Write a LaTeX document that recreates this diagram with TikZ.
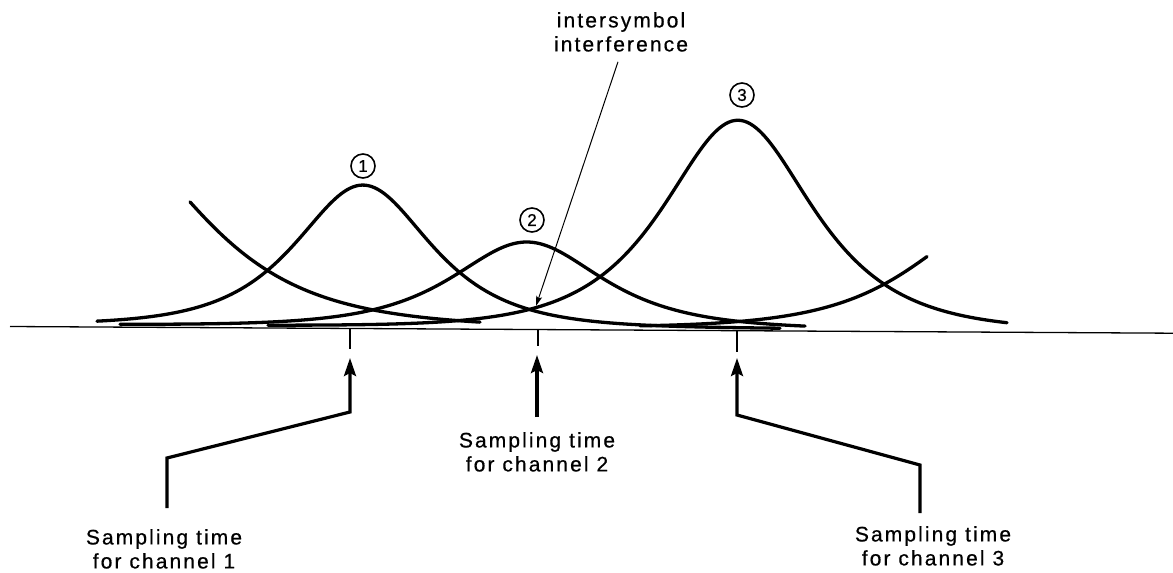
\documentclass[tikz,border=0pt]{standalone}
\usepackage{fontspec}
\setmainfont{Liberation Sans}
\newfontfamily\labfont[LetterSpace=10,FakeBold=0.6]{Liberation Sans}
\newfontfamily\numfont[FakeBold=0.8]{Liberation Sans}
\usetikzlibrary{arrows.meta}
\tikzset{
  pulse/.style={line width=3.3pt, line join=round, line cap=round},
  axisline/.style={line width=1.3pt},
  lead/.style={line width=3.2pt, line join=miter},
  bigtip/.style={-{Stealth[length=18pt,width=12pt,inset=3pt]}},
  smalltip/.style={line width=1pt, -{Stealth[length=10pt,width=6pt,inset=2pt]}},
  tickline/.style={line width=1.3pt},
  lab/.style={font=\labfont\fontsize{21}{24}\selectfont, align=center, inner sep=0pt},
  num/.style={draw, circle, line width=1.6pt, minimum size=24pt, inner sep=0pt, font=\numfont\fontsize{17}{17}\selectfont},
}
\begin{document}
\begin{tikzpicture}[x=1pt,y=-1pt]
\useasboundingbox (0,0) rectangle (1173,573);
% axis
\coordinate (axL) at (10,326.5);
\coordinate (axR) at (1173,333.2);
\draw[axisline] (axL) -- (axR);
% pulses
\draw[pulse] plot[domain=190:480, samples=120, smooth] (\x, {324+0.0058*(\x-10) - 190/cosh((\x-105)/85)});
\draw[pulse] plot[domain=97:780, samples=220, smooth] (\x, {324+0.0058*(\x-10) - 141/cosh((\x-363)/60)});
\draw[pulse] plot[domain=120:805, samples=220, smooth] (\x, {324+0.0058*(\x-10) - 85/cosh((\x-527)/66)});
\draw[pulse] plot[domain=268:1007, samples=240, smooth] (\x, {324+0.0058*(\x-10) - 208/cosh((\x-738)/66)});
\draw[pulse] plot[domain=640:927, samples=120, smooth] (\x, {324+0.0058*(\x-10) - 110/cosh((\x-1000)/75)});
% circled numbers
\node[num] (n1) at (363,166) {1};
\node[num] (n2) at (532,220) {2};
\node[num] (n3) at (742,95) {3};
% intersymbol interference
\node[lab, anchor=north] (isi) at (621,12) {intersymbol\\interference};
\coordinate (isitip) at (536,306);
\draw[smalltip] ([xshift=-3pt,yshift=-10pt]isi.south) -- (isitip);
% sampling ticks
\coordinate (t1a) at (350,329);   \coordinate (t1b) at (350,349);
\coordinate (t2a) at (538,329.6); \coordinate (t2b) at (538,346);
\coordinate (t3a) at (737,330.7); \coordinate (t3b) at (737,352);
\draw[tickline] (t1a) -- (t1b);
\draw[tickline] (t2a) -- (t2b);
\draw[tickline] (t3a) -- (t3b);
% labels
\node[lab, anchor=north] (s1) at (164,529) {Sampling time\\for channel 1};
\node[lab, anchor=north] (s2) at (537,432) {Sampling time\\for channel 2};
\node[lab, anchor=north] (s3) at (933,526) {Sampling time\\for channel 3};
% leaders
\coordinate (tip1) at (350,358); \coordinate (k1a) at (350,412); \coordinate (k1b) at (167,458);
\coordinate (tip2) at (537,355);
\coordinate (tip3) at (737,358); \coordinate (k3a) at (737,415); \coordinate (k3b) at (920,465);
\draw[lead, bigtip] ([xshift=3pt,yshift=21pt]s1.north) -- (k1b) -- (k1a) -- (tip1);
\draw[lead, bigtip] ([yshift=15pt]s2.north) -- (tip2);
\draw[lead, bigtip] ([xshift=-13pt,yshift=13pt]s3.north) -- (k3b) -- (k3a) -- (tip3);
\end{tikzpicture}
\end{document}
